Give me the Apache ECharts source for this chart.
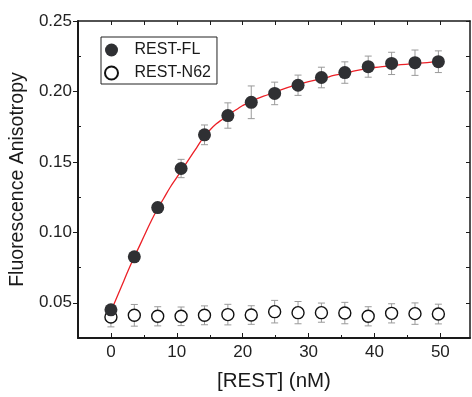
<!DOCTYPE html>
<html>
<head>
<meta charset="utf-8">
<script src="https://cdn.jsdelivr.net/npm/echarts@6/dist/echarts.min.js"></script>
<style>
  html, body { margin: 0; padding: 0; background: #fff; }
  #chart { width: 472px; height: 397px; }
</style>
</head>
<body>
<div id="chart"></div>
<script>
// concentrations (nM)
const concX = [0, 3.55, 7.1, 10.65, 14.2, 17.75, 21.3, 24.85, 28.4, 31.95, 35.5, 39.05, 42.6, 46.15, 49.7];
// REST-FL
const flY = [0.045, 0.0826, 0.1176, 0.1453, 0.1692, 0.1829, 0.1923, 0.1986, 0.2044, 0.2099, 0.2134, 0.2176, 0.2199, 0.2204, 0.2211];
const flErr = [0.003, 0.003, 0.003, 0.0065, 0.007, 0.009, 0.0116, 0.008, 0.0072, 0.0073, 0.0076, 0.0075, 0.0079, 0.009, 0.0077];
// REST-N62
const n62Y = [0.0399, 0.0411, 0.0404, 0.0404, 0.0411, 0.0416, 0.0413, 0.0437, 0.043, 0.043, 0.0427, 0.0404, 0.0425, 0.0423, 0.042];
const n62Err = [0.007, 0.0077, 0.0068, 0.0066, 0.0067, 0.0073, 0.0066, 0.008, 0.0079, 0.0068, 0.0076, 0.0068, 0.0068, 0.0076, 0.007];
// fitted curve
const fitX = [0, 1, 2, 3, 4, 5, 6, 7, 8, 9, 10, 11, 12, 13, 14, 15, 16, 17, 18, 19, 20, 22, 24, 26, 28, 30, 32, 34, 36, 38, 40, 42, 44, 46, 48, 50];
const fitY = [0.044, 0.055, 0.066, 0.077, 0.087, 0.097, 0.107, 0.116, 0.124, 0.132, 0.139, 0.146, 0.153, 0.16, 0.167, 0.1725, 0.177, 0.1805, 0.184, 0.187, 0.19, 0.1945, 0.198, 0.2015, 0.2045, 0.207, 0.209, 0.2115, 0.2135, 0.2155, 0.217, 0.218, 0.219, 0.2198, 0.2205, 0.2215];

const xLabels = [0, 10, 20, 30, 40, 50];
const xMinor = [5, 15, 25, 35, 45];
const yLabels = [0.05, 0.10, 0.15, 0.20, 0.25];
const yMinor = [0.075, 0.125, 0.175, 0.225];

const X_MIN = -5, X_MAX = 54.5, Y_MIN = 0.025, Y_MAX = 0.25;
const FONT = 'Liberation Sans, Arial, sans-serif';
const ink = '#1a1a1a';

const myChart = echarts.init(document.getElementById('chart'));

const errData = (ys, es) => concX.map((x, i) => [x, ys[i] - es[i], ys[i] + es[i]]);

const renderErr = (params, api) => {
    const x = api.value(0);
    const lo = api.coord([x, api.value(1)]);
    const hi = api.coord([x, api.value(2)]);
    const w = 3.5;
    const style = { stroke: '#9a9a9a', lineWidth: 1 };
    return {
        type: 'group',
        children: [
            { type: 'line', shape: { x1: lo[0], y1: lo[1], x2: hi[0], y2: hi[1] }, style },
            { type: 'line', shape: { x1: lo[0] - w, y1: lo[1], x2: lo[0] + w, y2: lo[1] }, style },
            { type: 'line', shape: { x1: hi[0] - w, y1: hi[1], x2: hi[0] + w, y2: hi[1] }, style }
        ]
    };
};

const baseX = { type: 'value', min: X_MIN, max: X_MAX, splitLine: { show: false } };
const baseY = { type: 'value', min: Y_MIN, max: Y_MAX, splitLine: { show: false } };

const option = {
    animation: false,
    textStyle: { fontFamily: FONT, color: ink },
    grid: { left: 77, right: 2, top: 21, bottom: 58 },
    legend: {
        data: ['REST-FL', 'REST-N62'],
        orient: 'vertical',
        left: 101,
        top: 37,
        itemWidth: 16,
        itemHeight: 13,
        itemGap: 7,
        padding: [5, 6, 3, 3],
        borderColor: '#222',
        borderWidth: 1,
        textStyle: { fontSize: 16, color: ink, padding: [0, 0, 0, 10] }
    },
    xAxis: [
        {
            ...baseX,
            position: 'bottom',
            name: '[REST] (nM)',
            nameLocation: 'middle',
            nameGap: 33,
            nameTextStyle: { fontSize: 20.5, color: ink },
            axisLine: { onZero: false, lineStyle: { color: ink, width: 2 } },
            axisTick: { inside: true, length: 5, customValues: xLabels, lineStyle: { color: ink } },
            axisLabel: { customValues: xLabels, fontSize: 17, color: '#222', margin: 6 }
        },
        {
            ...baseX,
            position: 'bottom',
            axisLine: { show: false, onZero: false },
            axisTick: { inside: true, length: 3, customValues: xMinor, lineStyle: { color: ink } },
            axisLabel: { show: false }
        },
        {
            ...baseX,
            position: 'top',
            axisLine: { onZero: false, lineStyle: { color: ink, width: 1.5 } },
            axisTick: { inside: true, length: 4, customValues: xLabels.concat(xMinor), lineStyle: { color: ink } },
            axisLabel: { show: false }
        }
    ],
    yAxis: [
        {
            ...baseY,
            position: 'left',
            name: 'Fluorescence Anisotropy',
            nameLocation: 'middle',
            nameGap: 40,
            nameTextStyle: { fontSize: 19.5, color: ink },
            axisLine: { onZero: false, lineStyle: { color: ink, width: 2 } },
            axisTick: { inside: false, length: 5, customValues: yLabels, lineStyle: { color: ink } },
            axisLabel: { customValues: yLabels, fontSize: 17, color: '#222', margin: 6,
                formatter: v => v.toFixed(2) }
        },
        {
            ...baseY,
            position: 'left',
            axisLine: { show: false, onZero: false },
            axisTick: { inside: true, length: 3, customValues: yMinor, lineStyle: { color: ink } },
            axisLabel: { show: false }
        },
        {
            ...baseY,
            position: 'right',
            axisLine: { onZero: false, lineStyle: { color: ink, width: 1.5 } },
            axisTick: { inside: true, length: 4, customValues: yLabels.concat(yMinor), lineStyle: { color: ink } },
            axisLabel: { show: false }
        }
    ],
    series: [
        {
            name: 'n62err',
            type: 'custom',
            renderItem: renderErr,
            data: errData(n62Y, n62Err),
            z: 1
        },
        {
            name: 'REST-N62',
            type: 'scatter',
            symbol: 'circle',
            symbolSize: 12,
            itemStyle: { color: '#fff', borderColor: '#111', borderWidth: 1.4, opacity: 1 },
            data: concX.map((x, i) => [x, n62Y[i]]),
            z: 2
        },
        {
            name: 'flerr',
            type: 'custom',
            renderItem: renderErr,
            data: errData(flY, flErr),
            z: 3
        },
        {
            name: 'fit',
            type: 'line',
            smooth: true,
            symbol: 'none',
            lineStyle: { color: '#ec2027', width: 1.3 },
            data: fitX.map((x, i) => [x, fitY[i]]),
            z: 4
        },
        {
            name: 'REST-FL',
            type: 'scatter',
            symbol: 'circle',
            symbolSize: 13,
            itemStyle: { color: '#2f3033', opacity: 1 },
            data: concX.map((x, i) => [x, flY[i]]),
            z: 5
        }
    ]
};

option && myChart.setOption(option);
</script>
</body>
</html>
